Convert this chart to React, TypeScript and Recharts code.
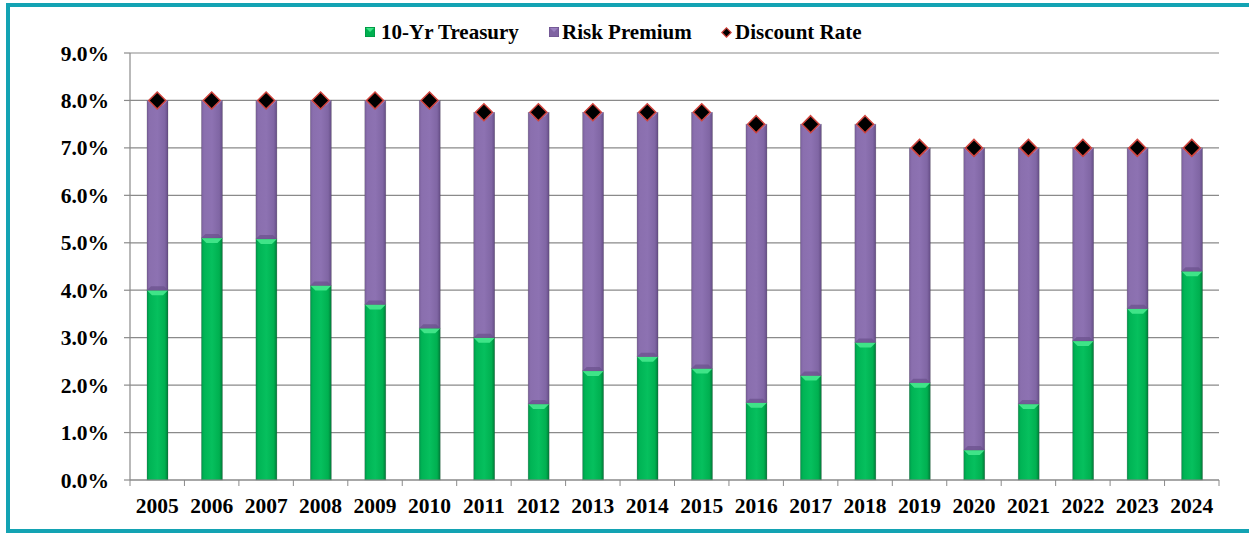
import React from 'react';
import { ComposedChart, Bar, Line, XAxis, YAxis, CartesianGrid } from 'recharts';

const years = ['2005', '2006', '2007', '2008', '2009', '2010', '2011', '2012', '2013', '2014', '2015', '2016', '2017', '2018', '2019', '2020', '2021', '2022', '2023', '2024'];
const treasury = [4.0, 5.1, 5.08, 4.1, 3.7, 3.2, 3.0, 1.6, 2.3, 2.6, 2.35, 1.63, 2.2, 2.9, 2.05, 0.63, 1.6, 2.93, 3.61, 4.4];
const riskPremium = [4.0, 2.9, 2.92, 3.9, 4.3, 4.8, 4.75, 6.15, 5.45, 5.15, 5.4, 5.87, 5.3, 4.6, 4.95, 6.37, 5.4, 4.07, 3.39, 2.6];
const discountRate = [8.0, 8.0, 8.0, 8.0, 8.0, 8.0, 7.75, 7.75, 7.75, 7.75, 7.75, 7.5, 7.5, 7.5, 7.0, 7.0, 7.0, 7.0, 7.0, 7.0];
const yTicks = [0, 1, 2, 3, 4, 5, 6, 7, 8, 9];

const W = 1249;
const H = 533;
const PLOT_LEFT = 130;
const PLOT_RIGHT = 1219;
const PLOT_TOP = 53;
const PLOT_BOTTOM = 480;
const FONT = "'Liberation Serif', 'Times New Roman', Times, serif";
const AXIS = '#8a8a8a';

const data = years.map((y, i) => ({
  year: y,
  treasury: treasury[i],
  premium: riskPremium[i],
  rate: discountRate[i],
}));

function BevelBar(props: any) {
  const { x, y, width, height, kind } = props;
  if (width == null || height == null || height <= 0) return null;
  const b = Math.min(5, height / 2);
  const isGreen = kind === 'green';
  const grad = isGreen ? 'url(#gGreen)' : 'url(#gPurple)';
  const bevel = isGreen ? '#3fe488' : '#9a80c0';
  const bottom = isGreen ? '#00853c' : '#6a508c';
  return (
    <g>
      <rect x={x} y={y} width={width} height={height} fill={grad} stroke="rgba(60,60,60,0.35)" strokeWidth={0.6} />
      <polygon
        points={`${x},${y} ${x + width},${y} ${x + width - b},${y + b} ${x + b},${y + b}`}
        fill={bevel}
      />
      {!isGreen && (
        <polygon
          points={`${x},${y + height} ${x + width},${y + height} ${x + width - 4},${y + height - 4} ${x + 4},${y + height - 4}`}
          fill={bottom}
          opacity={0.7}
        />
      )}
    </g>
  );
}

function Diamond(props: any) {
  const { cx, cy } = props;
  if (cx == null || cy == null) return null;
  const r = 8.5;
  return (
    <polygon
      points={`${cx},${cy - r} ${cx + r},${cy} ${cx},${cy + r} ${cx - r},${cy}`}
      fill="#000000"
      stroke="#d0453e"
      strokeWidth={1.5}
    />
  );
}

function XTick(props: any) {
  const { x, payload, index } = props;
  const half = (PLOT_RIGHT - PLOT_LEFT) / years.length / 2;
  return (
    <g>
      <line x1={x - half} x2={x - half} y1={PLOT_BOTTOM} y2={PLOT_BOTTOM + 6} stroke={AXIS} strokeWidth={1} />
      {index === years.length - 1 && (
        <line x1={x + half} x2={x + half} y1={PLOT_BOTTOM} y2={PLOT_BOTTOM + 6} stroke={AXIS} strokeWidth={1} />
      )}
      <text x={x} y={PLOT_BOTTOM + 33} textAnchor="middle" fontFamily={FONT} fontWeight="bold" fontSize={21.5} fill="#000">
        {payload.value}
      </text>
    </g>
  );
}

function YTick(props: any) {
  const { y, payload } = props;
  return (
    <text x={109} y={y + 7.5} textAnchor="end" fontFamily={FONT} fontWeight="bold" fontSize={21.5} fill="#000">
      {Number(payload.value).toFixed(1) + '%'}
    </text>
  );
}

function LegendBox({ left, children }: { left: number; children: React.ReactNode }) {
  return (
    <div style={{ position: 'absolute', left, top: 18, height: 28, display: 'flex', alignItems: 'center' }}>
      {children}
    </div>
  );
}

const legendText: React.CSSProperties = {
  fontFamily: FONT,
  fontWeight: 'bold',
  fontSize: 21,
  color: '#000',
  whiteSpace: 'nowrap',
  marginLeft: 6,
};

export default function App() {
  return (
    <div style={{ position: 'absolute', left: 0, top: 0, width: W, height: H, background: '#fff', overflow: 'hidden' }}>
      <div
        style={{
          position: 'absolute',
          left: 6,
          top: 3,
          width: W + 10,
          height: H - 3,
          boxSizing: 'border-box',
          border: '4px solid #13a3b3',
        }}
      />
      <ComposedChart
        width={W}
        height={H}
        data={data}
        margin={{ top: PLOT_TOP, right: W - PLOT_RIGHT, bottom: 0, left: 0 }}
        barSize={21}
        style={{ position: 'absolute', left: 0, top: 0 }}
      >
        <defs>
          <linearGradient id="gGreen" x1="0" y1="0" x2="1" y2="0">
            <stop offset="0" stopColor="#00974a" />
            <stop offset="0.12" stopColor="#00b455" />
            <stop offset="0.5" stopColor="#06c05e" />
            <stop offset="0.85" stopColor="#00b050" />
            <stop offset="1" stopColor="#007a38" />
          </linearGradient>
          <linearGradient id="gPurple" x1="0" y1="0" x2="1" y2="0">
            <stop offset="0" stopColor="#7a5f9c" />
            <stop offset="0.12" stopColor="#8a6fae" />
            <stop offset="0.5" stopColor="#8d72b2" />
            <stop offset="0.85" stopColor="#8066a4" />
            <stop offset="1" stopColor="#654d86" />
          </linearGradient>
        </defs>
        <CartesianGrid vertical={false} stroke={AXIS} strokeWidth={1.2} />
        <XAxis
          dataKey="year"
          height={H - PLOT_BOTTOM}
          axisLine={{ stroke: AXIS, strokeWidth: 1.2 }}
          tickLine={false}
          tick={<XTick />}
          interval={0}
        />
        <YAxis
          width={PLOT_LEFT}
          domain={[0, 9]}
          ticks={yTicks}
          interval={0}
          axisLine={{ stroke: AXIS, strokeWidth: 1.2 }}
          tickLine={{ stroke: AXIS, strokeWidth: 1.2 }}
          tickSize={6}
          tick={<YTick />}
        />
        <Bar dataKey="treasury" stackId="a" isAnimationActive={false} shape={(p: any) => <BevelBar {...p} kind="green" />} />
        <Bar dataKey="premium" stackId="a" isAnimationActive={false} shape={(p: any) => <BevelBar {...p} kind="purple" />} />
        <Line
          dataKey="rate"
          stroke="none"
          isAnimationActive={false}
          dot={<Diamond />}
          activeDot={false}
          legendType="none"
        />
      </ComposedChart>
      <LegendBox left={365}>
        <svg width={10} height={10}>
          <rect x={0} y={0} width={10} height={10} fill="#00b050" stroke="#008a3e" strokeWidth={1} />
          <polygon points="1,1 9,1 5,5" fill="#3fe488" />
        </svg>
        <span style={legendText}>10-Yr Treasury</span>
      </LegendBox>
      <LegendBox left={549}>
        <svg width={10} height={10}>
          <rect x={0} y={0} width={10} height={10} fill="#8064a2" stroke="#6a508c" strokeWidth={1} />
          <polygon points="1,1 9,1 5,5" fill="#9a80c0" />
        </svg>
        <span style={{ ...legendText, marginLeft: 3 }}>Risk Premium</span>
      </LegendBox>
      <LegendBox left={721}>
        <svg width={11} height={11}>
          <polygon points="5.5,0.8 10.2,5.5 5.5,10.2 0.8,5.5" fill="#000" stroke="#d0453e" strokeWidth={1.2} />
        </svg>
        <span style={{ ...legendText, marginLeft: 3 }}>Discount Rate</span>
      </LegendBox>
    </div>
  );
}
